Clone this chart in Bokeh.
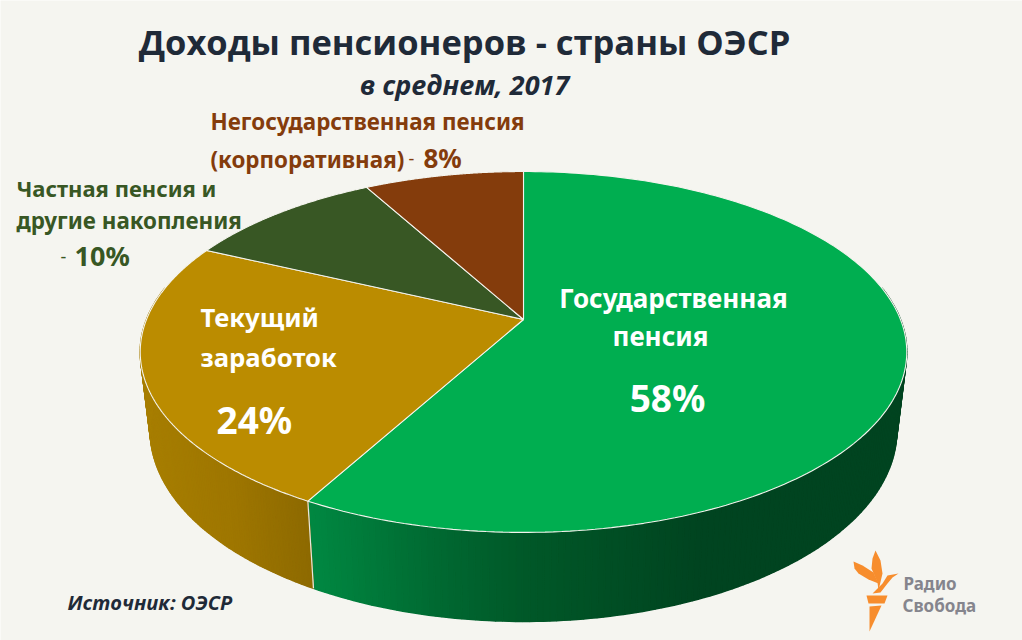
import numpy as np
from bokeh.plotting import figure
from bokeh.embed import file_html
from bokeh.resources import INLINE
from bokeh.core.properties import value

# ---- data ----
categories = ["Государственная пенсия", "Текущий заработок", "Частная пенсия и другие накопления", "Негосударственная пенсия (корпоративная)"]
shares = [58, 24, 10, 8]
share_labels = ["58%", "24%", "10%", "8%"]
title = "Доходы пенсионеров - страны ОЭСР"
subtitle = "в среднем, 2017"
source = "Источник: ОЭСР"

top_colors = ["#00ae50", "#bb8c00", "#385724", "#843c0c"]
BG = "#f5f5f0"

W, H = 1022, 640
p = figure(width=W, height=H, x_range=(0, W), y_range=(H, 0),
           output_backend="svg", toolbar_location=None, min_border=0,
           background_fill_color=BG, border_fill_color=BG, outline_line_color=None)
p.axis.visible = False
p.grid.visible = False

# perspective disc
CX, CY, K, A, B = 523.0, 319.0, 0.18, 377.0, 174.6


def top_pt(frac):
    t = 2 * np.pi * np.asarray(frac)
    u, v = np.sin(t), np.cos(t)
    d = 1 + K * v
    return CX + A * u / d, CY - B * v / d


def base_pt(x, y):
    return CX + (x - CX) * 0.974, 430 + (y - 351.5) * (191 / 180.5)


def lerp_color(x, stops):
    xs = [s[0] for s in stops]
    return "#%02x%02x%02x" % tuple(int(round(np.interp(x, xs, [s[1][i] for s in stops]))) for i in range(3))


side_stops = [
    [(312, (0, 135, 65)), (430, (0, 106, 50)), (525, (0, 88, 40)), (700, (0, 68, 32)), (910, (0, 68, 32))],
    [(140, (167, 126, 0)), (230, (158, 118, 0)), (312, (140, 105, 0))],
]
side_base = ["#004420", "#9a7400"]

edges = np.concatenate([[0], np.cumsum(shares)]) / sum(shares)

# side walls: a solid wall with thin gradient strips over it
for i, st in enumerate(side_stops):
    f0, f1 = edges[i], edges[i + 1]
    f0v, f1v = max(f0, 0.22), min(f1, 0.78)
    fr = np.linspace(f0v, f1v, 150)
    x, y = top_pt(fr)
    bx, by = base_pt(x, y)
    p.patch(np.r_[x, bx[::-1]], np.r_[y, by[::-1]], fill_color=side_base[i], line_color=None)
    xs, ys, cols = [], [], []
    for j in range(len(fr) - 1):
        xs.append([x[j], x[j + 1], bx[j + 1], bx[j]])
        ys.append([y[j], y[j + 1], by[j + 1], by[j]])
        cols.append(lerp_color((x[j] + x[j + 1]) / 2, st))
    p.patches(xs, ys, fill_color=cols, line_color=cols, line_width=1.5)

# white seam between side walls
xb, yb = top_pt(edges[1])
xb2, yb2 = base_pt(xb, yb)
p.line([xb, xb2], [yb, yb2], line_color="#e8e8e0", line_width=1.2)

# top wedges
for i in range(len(shares)):
    fr = np.linspace(edges[i], edges[i + 1], 200)
    x, y = top_pt(fr)
    p.patch(np.r_[CX, x], np.r_[CY, y], fill_color=top_colors[i], line_color="#f4f4ee", line_width=1.1)


def txt(x, y, s, size, color, bold=True, italic=False, font="Noto Sans", align="left"):
    style = ("bold " if bold else "") + ("italic" if italic else "")
    style = style.strip() or "normal"
    p.text([x], [y], [s], text_font=value(font), text_font_size=f"{size}px", text_color=color,
           text_font_style=style, text_align=align, text_baseline="alphabetic")


DARK = "#1f2a38"
txt(464, 41, title, 34.5, DARK, font="Open Sans", align="center")
txt(464, 84, subtitle, 27, DARK, italic=True, font="Open Sans", align="center")

BROWN, OLIVE = top_colors[3], top_colors[2]
txt(210, 121, "Негосударственная пенсия", 22.4, BROWN)
txt(210, 159, "(корпоративная)", 22.4, BROWN)
txt(408, 158, "-", 18, BROWN, bold=False)
txt(423, 157, share_labels[3], 26, BROWN)
txt(16, 187, "Частная пенсия и", 22, OLIVE)
txt(16, 220, "другие накопления", 22.4, OLIVE)
txt(60, 256, "-", 18, OLIVE, bold=False)
txt(74, 255, share_labels[2], 27, OLIVE)

txt(200, 317, "Текущий", 25.7, "white")
txt(200, 357, "заработок", 25.7, "white")
txt(216, 419, share_labels[1], 37, "white")
txt(673, 297, "Государственная", 26, "white", align="center")
txt(660, 335, "пенсия", 26, "white", align="center")
txt(667, 397, share_labels[0], 37, "white", align="center")

txt(67, 602, source, 20, DARK, italic=True, font="Open Sans")

# logo
ORANGE = "#f78d2d"
GREY = "#85858d"
logo_parts = [
    ([866, 887, 884, 868], [595, 595, 603, 603]),
    ([869, 881, 869], [606, 605, 631]),
    ([853, 862, 873, 878, 868, 858, 854], [561, 565, 572, 583, 579, 573, 568]),
    ([875, 880, 882, 878, 877, 871, 872], [550, 560, 573, 590, 582, 568, 558]),
    ([898, 887, 882, 872, 880, 887, 892], [573, 575, 583, 593, 592, 583, 577]),
]
for lx, ly in logo_parts:
    p.patch(lx, ly, fill_color=ORANGE, line_color=None)
txt(903, 583, "Радио", 17, GREY)
txt(902, 605, "Свобода", 17, GREY)

open("out.html", "w").write(file_html(p, INLINE))
